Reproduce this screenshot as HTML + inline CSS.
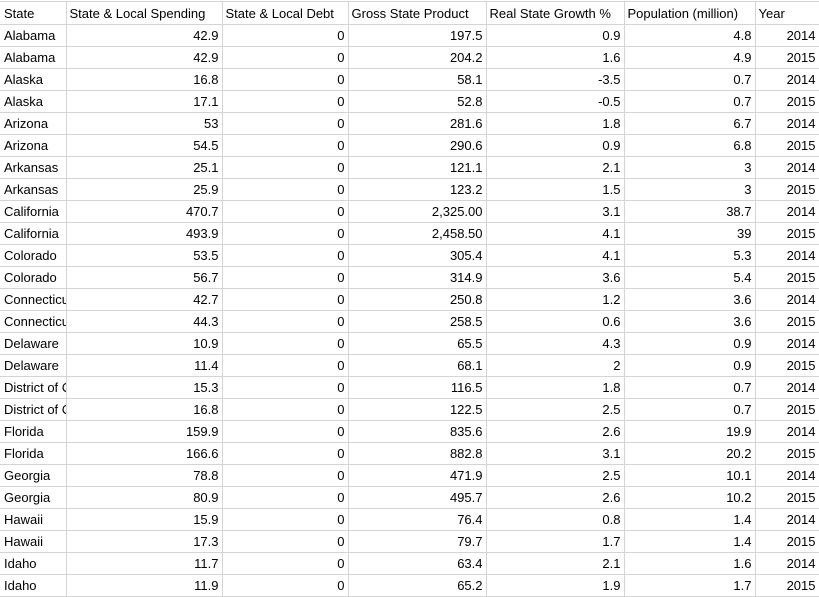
<!DOCTYPE html>
<html><head><meta charset="utf-8"><style>
html,body{margin:0;padding:0;background:#fff;overflow:hidden;width:819px;height:589px}
table{border-collapse:collapse;table-layout:fixed;width:819px;position:absolute;left:0;top:1px;font-family:"Liberation Sans",sans-serif;font-size:13px;color:#000}
td{border:1px solid #d4d4d4;height:21px;padding:0 3px;white-space:nowrap;overflow:hidden;text-overflow:clip;text-align:right;line-height:21px}
td:first-child{text-align:left;padding-left:4px;padding-right:0;border-left:none}
tr.h td{text-align:left;height:22px}
</style></head><body>
<table>
<colgroup><col style="width:66px"><col style="width:156px"><col style="width:126px"><col style="width:138px"><col style="width:138px"><col style="width:131px"><col style="width:64px"></colgroup>
<tbody id="tb">
<tr class="h"><td>State</td><td>State &amp; Local Spending</td><td>State &amp; Local Debt</td><td>Gross State Product</td><td>Real State Growth %</td><td>Population (million)</td><td>Year</td></tr>
</tbody></table>
<script>
const rows=[
["Alabama","42.9","0","197.5","0.9","4.8","2014"],
["Alabama","42.9","0","204.2","1.6","4.9","2015"],
["Alaska","16.8","0","58.1","-3.5","0.7","2014"],
["Alaska","17.1","0","52.8","-0.5","0.7","2015"],
["Arizona","53","0","281.6","1.8","6.7","2014"],
["Arizona","54.5","0","290.6","0.9","6.8","2015"],
["Arkansas","25.1","0","121.1","2.1","3","2014"],
["Arkansas","25.9","0","123.2","1.5","3","2015"],
["California","470.7","0","2,325.00","3.1","38.7","2014"],
["California","493.9","0","2,458.50","4.1","39","2015"],
["Colorado","53.5","0","305.4","4.1","5.3","2014"],
["Colorado","56.7","0","314.9","3.6","5.4","2015"],
["Connecticut","42.7","0","250.8","1.2","3.6","2014"],
["Connecticut","44.3","0","258.5","0.6","3.6","2015"],
["Delaware","10.9","0","65.5","4.3","0.9","2014"],
["Delaware","11.4","0","68.1","2","0.9","2015"],
["District of Columbia","15.3","0","116.5","1.8","0.7","2014"],
["District of Columbia","16.8","0","122.5","2.5","0.7","2015"],
["Florida","159.9","0","835.6","2.6","19.9","2014"],
["Florida","166.6","0","882.8","3.1","20.2","2015"],
["Georgia","78.8","0","471.9","2.5","10.1","2014"],
["Georgia","80.9","0","495.7","2.6","10.2","2015"],
["Hawaii","15.9","0","76.4","0.8","1.4","2014"],
["Hawaii","17.3","0","79.7","1.7","1.4","2015"],
["Idaho","11.7","0","63.4","2.1","1.6","2014"],
["Idaho","11.9","0","65.2","1.9","1.7","2015"]];
const tb=document.getElementById('tb');
rows.forEach(r=>{
const tr=document.createElement('tr');


r.forEach(v=>{const td=document.createElement('td');td.textContent=v;


tr.appendChild(td);});
tb.appendChild(tr);});
</script>
</body></html>
